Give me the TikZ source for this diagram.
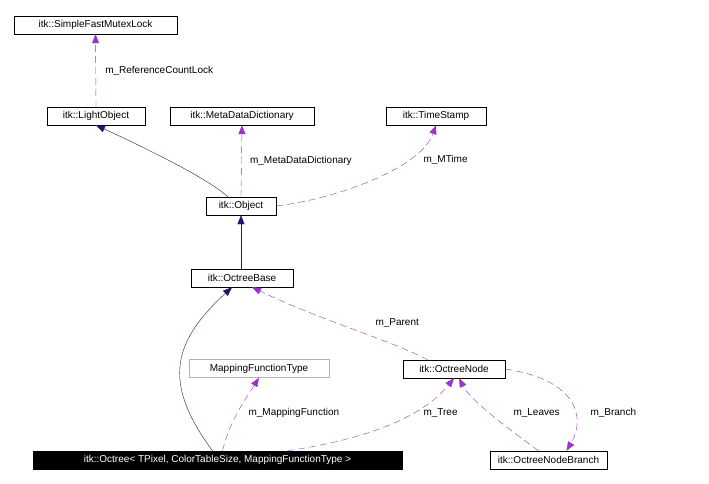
\documentclass[tikz,border=0pt]{standalone}
\usepackage{fontspec}
\setmainfont{Liberation Sans}
\usetikzlibrary{arrows.meta}
\begin{document}
\begin{tikzpicture}[x=1pt,y=-1pt,
 box/.style={draw=black,fill=white,inner sep=0pt,minimum height=18pt,font=\fontsize{10}{12}\selectfont},
 lbl/.style={font=\fontsize{10}{12}\selectfont,anchor=west},
 use/.style={draw={rgb,255:red,153;green,51;blue,204},dash pattern=on 7pt off 4pt,-{Triangle[length=9pt,width=7pt]}},
 inh/.style={draw={rgb,255:red,25;green,25;blue,112},-{Triangle[open,length=9pt,width=7pt,fill=white]}},
 inhs/.style={draw={rgb,255:red,25;green,25;blue,112},-{Triangle[length=9pt,width=7pt]}}]
\useasboundingbox (0,0) rectangle (709,483);
\node[box,minimum width=163pt] (sfm) at (95.5,25) {itk::SimpleFastMutexLock};
\node[box,minimum width=98pt] (lo) at (96,116) {itk::LightObject};
\node[box,minimum width=144pt] (mdd) at (242,116) {itk::MetaDataDictionary};
\node[box,minimum width=100pt] (ts) at (436,116) {itk::TimeStamp};
\node[box,minimum width=70pt] (obj) at (241,206) {itk::Object};
\node[box,minimum width=102pt] (ob) at (242,278) {itk::OctreeBase};
\node[box,draw=gray!60,minimum width=140pt] (mft) at (259,368.5) {MappingFunctionType};
\node[box,minimum width=102pt] (on) at (454,369) {itk::OctreeNode};
\node[box,fill=black,text=white,minimum width=369pt] (oc) at (217.5,460) {itk::Octree< TPixel, ColorTableSize, MappingFunctionType >};
\node[box,minimum width=117pt] (onb) at (548.5,460) {itk::OctreeNodeBranch};

\draw[use] (lo.north) -- (sfm.south) node[lbl,midway,xshift=6pt] {m\_ReferenceCountLock};
\draw[inhs] (obj.north west)++(22,0) .. controls (210,180) and (150,150) .. (lo.south);
\draw[use] (obj.north) -- (mdd.south) node[lbl,pos=0.5,xshift=5pt] {m\_MetaDataDictionary};
\draw[use] (obj.east) .. controls (330,200) and (420,170) .. (ts.south) ;
\node[lbl] at (420,160) {m\_MTime};
\draw[inhs] (obj.south) ++(0,54) -- (obj.south);
\draw[inhs] ([xshift=-5pt]oc.north) .. controls (160,380) and (175,340) .. ([xshift=-10pt]ob.south);
\draw[use] (on.north west)++(25,0) .. controls (390,340) and (320,320) .. ([xshift=10pt]ob.south);
\node[lbl] at (372,323) {m\_Parent};
\draw[use] (oc.north)++(5,0) .. controls (230,420) and (245,400) .. (mft.south);
\node[lbl] at (245,413) {m\_MappingFunction};
\draw[use] (oc.north)++(70,0) .. controls (360,440) and (420,420) .. (on.south);
\node[lbl] at (420,413) {m\_Tree};
\draw[use] (onb.north)++(-10,0) .. controls (510,430) and (470,400) .. ([xshift=5pt]on.south);
\node[lbl] at (510,413) {m\_Leaves};
\draw[use] (on.east) .. controls (580,380) and (585,420) .. ([xshift=18pt]onb.north);
\node[lbl] at (587,413) {m\_Branch};
\end{tikzpicture}
\end{document}
